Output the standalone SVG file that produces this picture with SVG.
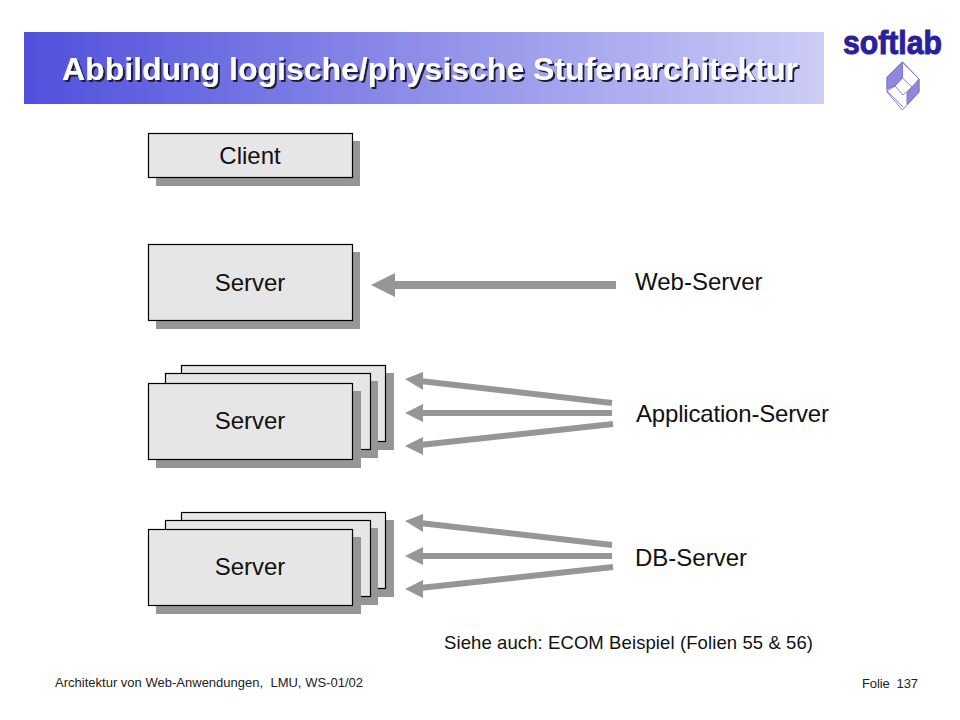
<svg xmlns="http://www.w3.org/2000/svg" width="960" height="720" viewBox="0 0 960 720">
<style>
text{font-family:"Liberation Sans",Arial,sans-serif}
.s{fill:#969696}
.b{fill:#e6e6e6;stroke:#000;stroke-width:1.2}
.l{font-size:24px;fill:#111}
.n{font-size:24px;fill:#111;text-anchor:middle}
.a{stroke:#969696;fill:none}
.h{fill:#969696}
.f{font-size:13px;fill:#222;white-space:pre}
.t{font-size:32px;font-weight:bold}
.lg{stroke:#7a70d0;stroke-width:0.9;fill:#fff}
.lh{stroke:#7a70d0;stroke-width:0.9;fill:#9088dc}
</style>
<defs>
<linearGradient id="g" x1="0" y1="0" x2="1" y2="0"><stop offset="0" stop-color="#5050dc"/><stop offset="1" stop-color="#cdcdf6"/></linearGradient>
<filter id="ds" x="-5%" y="-20%" width="110%" height="140%"><feDropShadow dx="2" dy="2" stdDeviation="0.6" flood-color="#1c1c40"/></filter>
</defs>
<rect width="960" height="720" fill="#fff"/>
<g id="title">
<rect x="24" y="32" width="800" height="72" fill="url(#g)"/>
<text class="t" x="62" y="80" fill="#fff" filter="url(#ds)" textLength="736" lengthAdjust="spacingAndGlyphs">Abbildung logische/physische Stufenarchitektur</text>
</g>
<g id="logo">
<text x="843" y="54" font-size="33" font-weight="bold" fill="#2a1f9c" stroke="#2a1f9c" stroke-width="1" textLength="99" lengthAdjust="spacingAndGlyphs">softlab</text>
<polygon class="lg" points="902.500,62 919,79 919,92 902.500,110 887,92 887,77"/>
<polygon class="lh" points="902.500,62 887,77 887,89 895,86 902.500,78"/>
<polygon class="lh" points="919,79 919,92 907,105 907,93 912,87"/>
<polygon class="lg" points="902.500,78 912,87 903,95 895,86"/>
<path class="lg" fill="none" d="M902.500 62 L919 79 M887 91 L903 107 M895 86 L887 91 M912 87 L907 93" style="fill:none"/>
</g>
<g id="client">
<rect class="s" x="156" y="141" width="204" height="45"/>
<rect class="b" x="148.500" y="133.500" width="204" height="44"/>
<text class="n" x="250" y="164">Client</text>
</g>
<g id="server-web">
<rect class="s" x="156" y="252" width="204" height="77"/>
<rect class="b" x="148.500" y="244.500" width="204" height="76"/>
<text class="n" x="250" y="291">Server</text>
</g>
<g id="server-app">
<rect class="s" x="189" y="373" width="205" height="77"/>
<rect class="b" x="181.500" y="365.500" width="204" height="76"/>
<rect class="s" x="173" y="381" width="205" height="77"/>
<rect class="b" x="165.500" y="373.500" width="205" height="76"/>
<rect class="s" x="156" y="391" width="205" height="77"/>
<rect class="b" x="148.500" y="383.500" width="204" height="76"/>
<text class="n" x="250" y="429">Server</text>
</g>
<g id="server-db">
<rect class="s" x="189" y="520" width="205" height="77"/>
<rect class="b" x="181.500" y="512.500" width="204" height="76"/>
<rect class="s" x="173" y="528" width="205" height="77"/>
<rect class="b" x="165.500" y="520.500" width="205" height="76"/>
<rect class="s" x="156" y="537" width="205" height="77"/>
<rect class="b" x="148.500" y="529.500" width="204" height="76"/>
<text class="n" x="250" y="575">Server</text>
</g>
<g id="connectors">
<line class="a" x1="616" y1="285" x2="390" y2="285" stroke-width="8"/>
<polygon class="h" points="371,285 395,273 395,297"/>
<line class="a" x1="612" y1="403" x2="420" y2="381" stroke-width="6"/>
<polygon class="h" points="405,379 423,372 423,390"/>
<line class="a" x1="612" y1="413" x2="420" y2="413" stroke-width="6"/>
<polygon class="h" points="405,413 423,404 423,422"/>
<line class="a" x1="613" y1="424" x2="420" y2="445" stroke-width="6"/>
<polygon class="h" points="405,446 423,437 423,455"/>
<line class="a" x1="612" y1="545" x2="420" y2="523" stroke-width="6"/>
<polygon class="h" points="405,521 423,514 423,532"/>
<line class="a" x1="612" y1="556" x2="420" y2="556" stroke-width="6"/>
<polygon class="h" points="405,556 423,547 423,565"/>
<line class="a" x1="613" y1="567" x2="420" y2="588" stroke-width="6"/>
<polygon class="h" points="405,589 423,580 423,598"/>
</g>
<g id="labels">
<text class="l" x="635" y="290">Web-Server</text>
<text class="l" x="636" y="422" textLength="193" lengthAdjust="spacing">Application-Server</text>
<text class="l" x="635" y="566">DB-Server</text>
<text x="444" y="649" font-size="18.500" fill="#111" textLength="369" lengthAdjust="spacing">Siehe auch: ECOM Beispiel (Folien 55 &amp; 56)</text>
</g>
<g id="footer">
<text class="f" x="55" y="687" textLength="308" lengthAdjust="spacing">Architektur von Web-Anwendungen,  LMU, WS-01/02</text>
<text class="f" x="862" y="688" textLength="56" lengthAdjust="spacing">Folie  137</text>
</g>
</svg>
